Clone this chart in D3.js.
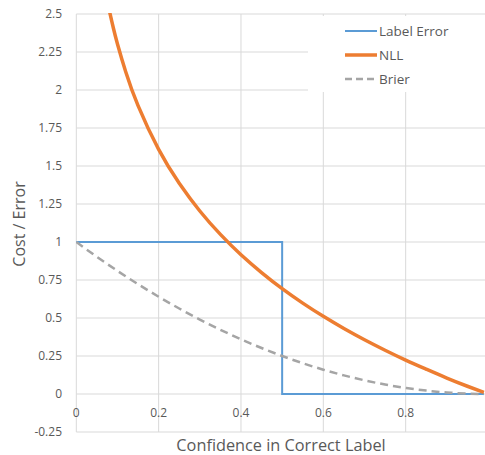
<!DOCTYPE html>
<html><head><meta charset="utf-8">
<script src="https://cdn.jsdelivr.net/npm/d3@7/dist/d3.min.js"></script>
<style>body{margin:0;background:#fff}svg{display:block}</style>
</head><body><div id="c"></div>
<script>
const xTicks = [0, 0.2, 0.4, 0.6, 0.8];
const xTickLabels = ["0", "0.2", "0.4", "0.6", "0.8"];
const yTicks = [-0.25, 0, 0.25, 0.5, 0.75, 1, 1.25, 1.5, 1.75, 2, 2.25, 2.5];
const yTickLabels = ["-0.25", "0", "0.25", "0.5", "0.75", "1", "1.25", "1.5", "1.75", "2", "2.25", "2.5"];
const seriesNames = ["Label Error", "NLL", "Brier"];
// Label Error (step)
const labelErrX = [0, 0.5, 0.5, 0.99];
const labelErrY = [1, 1, 0, 0];
// NLL
const nllX = [0.05, 0.06, 0.07, 0.08, 0.09, 0.1, 0.12, 0.15, 0.2, 0.25, 0.3, 0.35, 0.4, 0.45, 0.5, 0.55, 0.6, 0.65, 0.7, 0.75, 0.8, 0.85, 0.9, 0.95, 0.99];
const nllY = [2.996, 2.813, 2.659, 2.526, 2.408, 2.303, 2.120, 1.897, 1.609, 1.386, 1.204, 1.050, 0.916, 0.799, 0.693, 0.598, 0.511, 0.431, 0.357, 0.288, 0.223, 0.163, 0.105, 0.051, 0.010];
// Brier
const brierX = [0, 0.05, 0.1, 0.15, 0.2, 0.25, 0.3, 0.35, 0.4, 0.45, 0.5, 0.55, 0.6, 0.65, 0.7, 0.75, 0.8, 0.85, 0.9, 0.95, 0.99];
const brierY = [1, 0.9025, 0.81, 0.7225, 0.64, 0.5625, 0.49, 0.4225, 0.36, 0.3025, 0.25, 0.2025, 0.16, 0.1225, 0.09, 0.0625, 0.04, 0.0225, 0.01, 0.0025, 0.0001];

const W = 485, H = 455;
const svg = d3.select("#c").append("svg").attr("width", W).attr("height", H);
const font = "'Open Sans', sans-serif";
const x = d3.scaleLinear().domain([0, 1]).range([76.3, 488]);
const y = d3.scaleLinear().domain([-0.25, 2.5]).range([432, 14]);

svg.append("defs").append("clipPath").attr("id", "clip")
  .append("rect").attr("x", 76).attr("y", 13).attr("width", W - 76).attr("height", 420);

const grid = svg.append("g");
grid.selectAll("line.h").data(yTicks).join("line")
  .attr("x1", x(0)).attr("x2", W).attr("y1", d => y(d)).attr("y2", d => y(d))
  .attr("stroke", "#d9d9d9").attr("stroke-width", 1);
grid.selectAll("line.v").data(xTicks).join("line")
  .attr("x1", d => x(d)).attr("x2", d => x(d)).attr("y1", y(2.5)).attr("y2", y(-0.25))
  .attr("stroke", "#d9d9d9").attr("stroke-width", 1);

// y tick labels
svg.append("g").selectAll("text").data(yTicks).join("text")
  .attr("x", 62).attr("y", d => y(d)).attr("dy", "0.35em").attr("text-anchor", "end")
  .attr("font-family", font).attr("font-size", 12).attr("fill", "#595959")
  .text((d, i) => yTickLabels[i]);
// x tick labels
svg.append("g").selectAll("text").data(xTicks).join("text")
  .attr("x", d => x(d)).attr("y", y(0) + 19).attr("dy", "0.35em").attr("text-anchor", "middle")
  .attr("font-family", font).attr("font-size", 12).attr("fill", "#595959")
  .text((d, i) => xTickLabels[i]);

// axis titles
svg.append("text").attr("transform", `translate(19,224) rotate(-90)`)
  .attr("text-anchor", "middle").attr("dy", "0.35em")
  .attr("font-family", font).attr("font-size", 16).attr("fill", "#595959").text("Cost / Error");
svg.append("text").attr("x", 281).attr("y", 445).attr("text-anchor", "middle").attr("dy", "0.35em")
  .attr("font-family", font).attr("font-size", 16.3).attr("fill", "#595959").text("Confidence in Correct Label");

const plot = svg.append("g").attr("clip-path", "url(#clip)");
const lineL = d3.line().x(d => x(d[0])).y(d => y(d[1]));
const lineC = d3.line().x(d => x(d[0])).y(d => y(d[1])).curve(d3.curveNatural);

plot.append("path").datum(labelErrX.map((v, i) => [v, labelErrY[i]]))
  .attr("d", lineL).attr("fill", "none").attr("stroke", "#5B9BD5").attr("stroke-width", 2);
plot.append("path").datum(brierX.map((v, i) => [v, brierY[i]]))
  .attr("d", lineC).attr("fill", "none").attr("stroke", "#A5A5A5").attr("stroke-width", 2.5)
  .attr("stroke-dasharray", "8,5");
plot.append("path").datum(nllX.map((v, i) => [v, nllY[i]]))
  .attr("d", lineC).attr("fill", "none").attr("stroke", "#ED7D31").attr("stroke-width", 3.5);

// legend
const lg = svg.append("g");
lg.append("rect").attr("x", 308).attr("y", 16).attr("width", W - 308).attr("height", 76).attr("fill", "#fff");
const legStyles = [
  {c: "#5B9BD5", w: 2, dash: null},
  {c: "#ED7D31", w: 3.5, dash: null},
  {c: "#A5A5A5", w: 2.5, dash: "7,4"}
];
seriesNames.forEach((n, i) => {
  const ly = 31 + i * 24;
  const l = lg.append("line").attr("x1", 345).attr("x2", 377).attr("y1", ly).attr("y2", ly)
    .attr("stroke", legStyles[i].c).attr("stroke-width", legStyles[i].w);
  if (legStyles[i].dash) l.attr("stroke-dasharray", legStyles[i].dash);
  lg.append("text").attr("x", 379).attr("y", ly).attr("dy", "0.35em")
    .attr("font-family", font).attr("font-size", 13.5).attr("fill", "#595959").text(n);
});
</script></body></html>
